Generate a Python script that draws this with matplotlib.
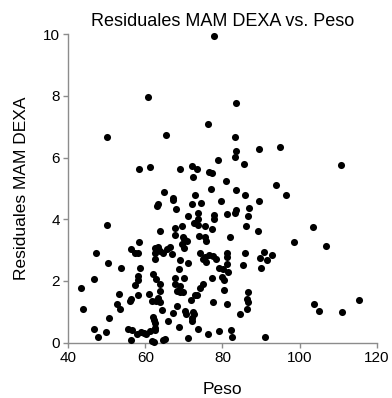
import matplotlib.pyplot as plt

plt.rcParams['font.family'] = ['Liberation Sans', 'DejaVu Sans']

# Peso (kg) and residuals of MAM vs DEXA
peso = [
    77.9, 60.6, 83.5, 76.3, 50.0, 65.3, 83.3, 94.8, 89.6, 83.4,
    83.2, 78.9, 85.7, 110.7, 72.2, 73.4, 61.3, 58.3, 69.1, 76.5,
    77.3, 72.4, 81.0, 93.9, 77.1, 83.6, 64.9, 85.8, 96.6, 72.8,
    67.1, 67.2, 79.6, 89.6, 74.4, 72.2, 63.4, 63.0, 67.9, 83.5,
    86.8, 83.3, 73.6, 77.9, 81.3, 71.0, 86.7, 77.9, 73.6, 72.5,
    73.7, 75.4, 86.0, 103.6, 69.4, 67.8, 77.3, 50.1, 63.8, 89.1,
    67.8, 69.7, 74.0, 75.5, 81.9, 70.1, 70.9, 75.8, 58.4, 98.6,
    69.6, 106.9, 66.5, 62.5, 63.3, 65.5, 70.0, 56.2, 63.7, 90.9,
    85.8, 81.3, 47.2, 57.3, 58.1, 62.6, 74.2, 64.6, 67.0, 92.8,
    75.4, 76.6, 77.5, 81.3, 89.8, 74.9, 69.1, 78.3, 91.5, 62.6,
    75.8, 50.4, 71.0, 81.3, 85.2, 53.8, 58.6, 68.7, 79.0, 80.2,
    90.0, 81.4, 80.0, 80.3, 77.4, 67.7, 70.0, 58.0, 58.0, 46.7,
    61.9, 62.8, 63.9, 43.3, 57.3, 67.8, 69.1, 74.9, 74.1, 63.8,
    68.1, 69.1, 69.7, 80.4, 86.5, 53.2, 61.0, 58.0, 72.8, 73.4,
    56.3, 63.3, 56.0, 86.3, 115.3, 71.8, 86.5, 61.7, 62.7, 63.9,
    77.5, 52.6, 103.7, 81.3, 68.1, 53.5, 43.9, 86.3, 64.2, 84.5,
    105.0, 110.9, 70.4, 72.3, 72.6, 67.3, 70.5, 62.0, 50.6, 72.0,
    62.3, 72.1, 66.0, 62.6, 46.7, 55.5, 56.6, 68.8, 73.6, 62.6,
    62.6, 61.3, 49.7, 79.0, 82.2, 59.0, 59.7, 57.8, 60.2, 76.3,
    47.6, 71.0, 82.6, 91.1, 56.3, 61.8, 62.3, 64.7, 65.2,
]
residuales = [
    9.95, 7.95, 7.77, 7.08, 6.68, 6.72, 6.66, 6.35, 6.27, 6.22,
    6.01, 5.91, 5.79, 5.77, 5.74, 5.64, 5.70, 5.62, 5.63, 5.54,
    5.51, 5.37, 5.24, 5.11, 4.99, 4.94, 4.90, 4.79, 4.80, 4.78,
    4.68, 4.63, 4.59, 4.59, 4.54, 4.51, 4.49, 4.43, 4.32, 4.30,
    4.38, 4.19, 4.19, 4.14, 4.16, 4.11, 4.11, 4.00, 4.00, 3.89,
    3.81, 3.77, 3.79, 3.76, 3.79, 3.71, 3.70, 3.82, 3.62, 3.61,
    3.49, 3.44, 3.45, 3.41, 3.42, 3.36, 3.31, 3.30, 3.25, 3.26,
    3.21, 3.12, 3.11, 3.06, 3.10, 3.03, 3.07, 3.03, 2.97, 2.95,
    2.92, 2.92, 2.90, 2.90, 2.90, 2.90, 2.90, 2.90, 2.88, 2.84,
    2.79, 2.83, 2.82, 2.78, 2.76, 2.72, 2.67, 2.70, 2.67, 2.72,
    2.63, 2.59, 2.57, 2.54, 2.52, 2.43, 2.43, 2.40, 2.41, 2.38,
    2.43, 2.30, 2.12, 2.03, 2.10, 2.11, 2.11, 2.16, 2.03, 2.08,
    2.23, 2.05, 1.90, 1.77, 1.87, 1.90, 1.84, 1.91, 1.77, 1.68,
    1.69, 1.65, 1.65, 1.70, 1.64, 1.59, 1.57, 1.55, 1.56, 1.56,
    1.42, 1.46, 1.35, 1.43, 1.38, 1.39, 1.33, 1.35, 1.35, 1.33,
    1.32, 1.25, 1.25, 1.25, 1.19, 1.10, 1.10, 1.08, 1.06, 0.92,
    1.02, 1.01, 1.03, 0.98, 0.92, 0.96, 0.93, 0.83, 0.79, 0.79,
    0.74, 0.71, 0.71, 0.63, 0.45, 0.45, 0.41, 0.51, 0.43, 0.48,
    0.41, 0.37, 0.36, 0.39, 0.40, 0.34, 0.30, 0.27, 0.27, 0.27,
    0.19, 0.15, 0.17, 0.19, 0.09, 0.05, 0.02, 0.10, 0.13,
]

x_ticks = [40, 60, 80, 100, 120]
y_ticks = [0, 2, 4, 6, 8, 10]

fig = plt.figure(figsize=(3.92, 3.98), dpi=100)
ax = fig.add_axes([0.174, 0.139, 0.787, 0.775])

ax.scatter(peso, residuales, s=26, color='black', linewidths=0, zorder=3,
           clip_on=False)

ax.set_xlim(40, 120)
ax.set_ylim(0, 10)
ax.set_xticks(x_ticks)
ax.set_yticks(y_ticks)

for side in ['top', 'right']:
    ax.spines[side].set_visible(False)
for side in ['left', 'bottom']:
    ax.spines[side].set_color('#8c8c8c')
    ax.spines[side].set_linewidth(1.0)
ax.tick_params(direction='out', length=3.6, width=1.0, color='#8c8c8c',
               labelsize=11, labelcolor='black', pad=2.5)

ax.set_title('Residuales MAM DEXA vs. Peso', fontsize=13, pad=6)
ax.set_xlabel('Peso', fontsize=12.5, labelpad=12)
ax.set_ylabel('Residuales MAM DEXA', fontsize=12.5, labelpad=10)

fig.savefig('out.png', dpi=100)
